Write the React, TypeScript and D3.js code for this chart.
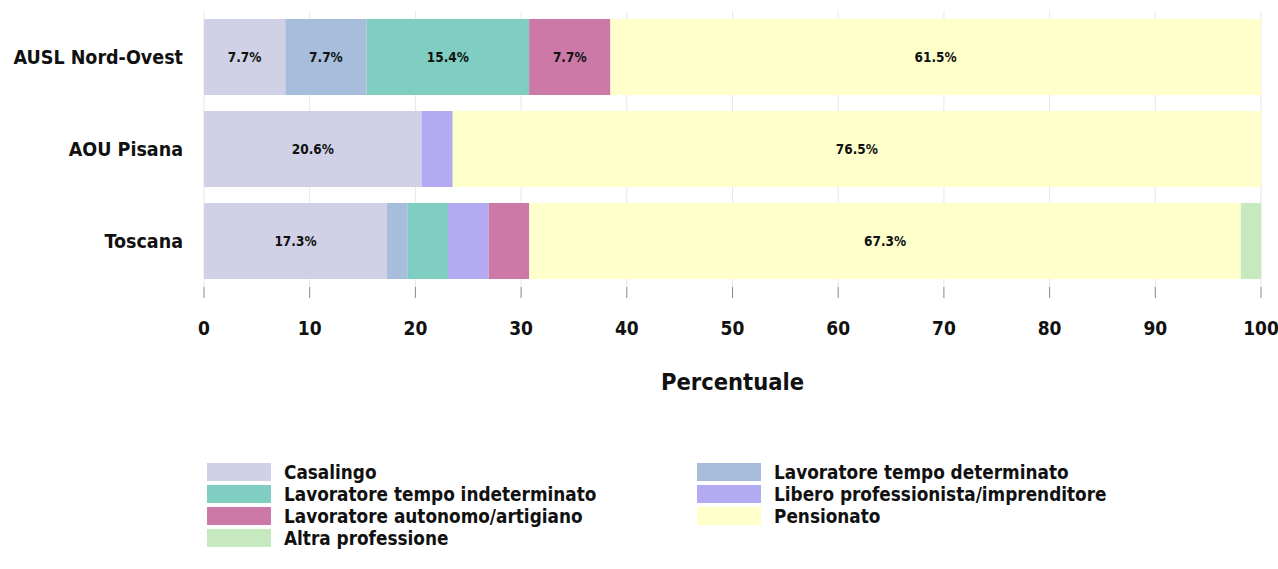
import React from "react";
import * as d3 from "d3";

const categories = ["AUSL Nord-Ovest", "AOU Pisana", "Toscana"];
const seriesNames = [
  "Casalingo",
  "Lavoratore tempo determinato",
  "Lavoratore tempo indeterminato",
  "Libero professionista/imprenditore",
  "Lavoratore autonomo/artigiano",
  "Pensionato",
  "Altra professione",
];
const seriesColors = ["#d0d1e6", "#a6bddb", "#80cdc1", "#b2abf2", "#cc79a7", "#ffffcc", "#c7e9c0"];
const casalingo = [7.69, 20.59, 17.31];
const tempoDeterminato = [7.69, 0, 1.92];
const tempoIndeterminato = [15.38, 0, 3.85];
const liberoProfessionista = [0, 2.94, 3.85];
const autonomo = [7.69, 0, 3.85];
const pensionato = [61.54, 76.47, 67.31];
const altra = [0, 0, 1.92];
const xTicks = [0, 10, 20, 30, 40, 50, 60, 70, 80, 90, 100];

const FONT = "'DejaVu Sans Condensed', 'Liberation Sans Narrow', sans-serif";

export default function App() {
  const W = 1278, H = 569;
  const left = 204, right = 1261;
  const x = d3.scaleLinear().domain([0, 100]).range([left, right]);
  const y = d3.scaleBand().domain(categories).range([11, 287]).paddingInner(0.174).paddingOuter(0.087);
  const values = [casalingo, tempoDeterminato, tempoIndeterminato, liberoProfessionista, autonomo, pensionato, altra];
  const rows = categories.map((c, i) => {
    const r: any = { cat: c };
    seriesNames.forEach((s, j) => (r[s] = values[j][i]));
    return r;
  });
  const stack = d3.stack<any>().keys(seriesNames)(rows);

  return (
    <svg width={W} height={H} style={{ display: "block", position: "absolute", left: 0, top: 0 }} fontFamily={FONT} fontWeight="bold">
      {xTicks.map((t) => (
        <g key={t}>
          <line x1={x(t)} x2={x(t)} y1={11} y2={287} stroke="#e6e6e6" strokeWidth={1} />
          <line x1={x(t)} x2={x(t)} y1={287} y2={298} stroke="#888" strokeWidth={1} />
          <text x={x(t)} y={335} textAnchor="middle" fontSize={19} fill="#111">{t}</text>
        </g>
      ))}
      {stack.map((layer, j) => (
        <g key={layer.key} fill={seriesColors[j]}>
          {layer.map((d, i) =>
            d[1] - d[0] > 0 ? (
              <rect key={i} x={x(d[0])} width={x(d[1]) - x(d[0])} y={y(categories[i])} height={y.bandwidth()} />
            ) : null
          )}
        </g>
      ))}
      {stack.map((layer) =>
        layer.map((d, i) =>
          d[1] - d[0] >= 5 ? (
            <text key={layer.key + i} x={(x(d[0]) + x(d[1])) / 2} y={(y(categories[i]) as number) + y.bandwidth() / 2 + 5}
              textAnchor="middle" fontSize={13.5} fill="#111">{(d[1] - d[0]).toFixed(1)}%</text>
          ) : null
        )
      )}
      {categories.map((c) => (
        <text key={c} x={183} y={(y(c) as number) + y.bandwidth() / 2 + 7} textAnchor="end" fontSize={19.5} fill="#111">{c}</text>
      ))}
      <text x={(left + right) / 2} y={390} textAnchor="middle" fontSize={23.5} fill="#111">Percentuale</text>
      {seriesNames.map((s, j) => {
        const col = j % 2, row = Math.floor(j / 2);
        const sx = col === 0 ? 207 : 697;
        const sy = 463 + row * 22;
        return (
          <g key={s}>
            <rect x={sx} y={sy} width={64} height={18} fill={seriesColors[j]} />
            <text x={sx + 77} y={sy + 16} fontSize={18.8} fill="#111">{s}</text>
          </g>
        );
      })}
    </svg>
  );
}
